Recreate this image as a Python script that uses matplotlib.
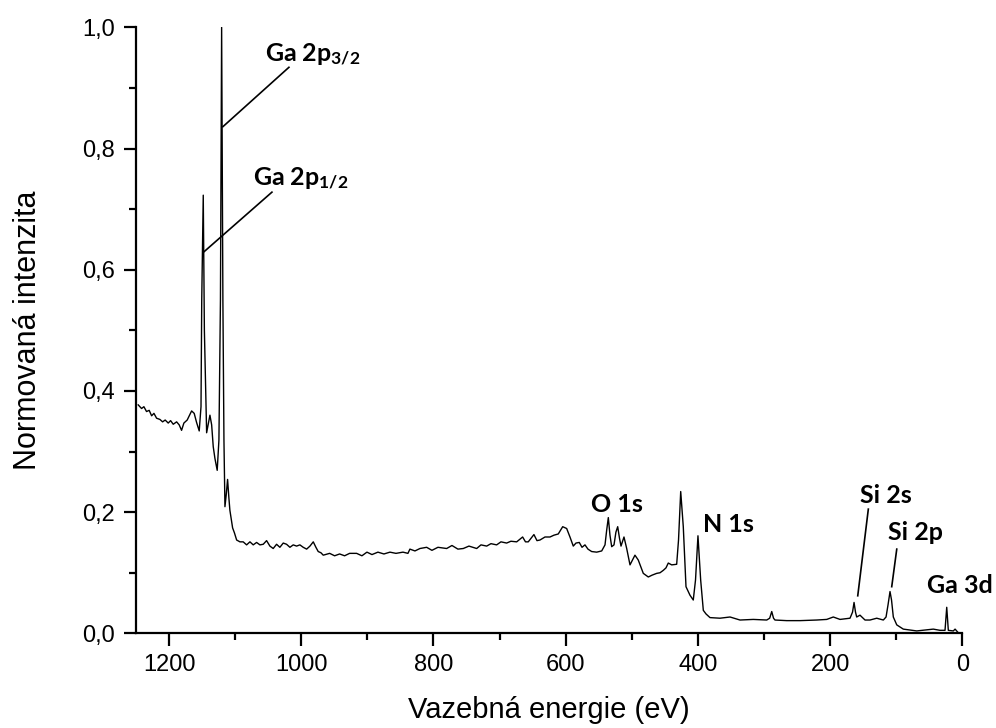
import numpy as np
import matplotlib
matplotlib.use("Agg")
import matplotlib.pyplot as plt
from matplotlib.ticker import MultipleLocator, FuncFormatter


# survey spectrum (binding energy in eV, normalized intensity)
energy = [
    1246.6, 1241.5, 1238.0, 1234.0, 1230.0, 1226.3, 1222.8, 1218.8, 1213.8, 1209.7,
    1205.8, 1201.2, 1197.6, 1193.6, 1188.5, 1184.6, 1181.0, 1177.5, 1172.5, 1165.8,
    1161.9, 1158.3, 1154.3, 1151.6, 1150.5, 1148.2, 1146.5, 1143.1, 1138.1, 1135.5,
    1133.1, 1130.6, 1127.1, 1124.5, 1122.2, 1120.4, 1118.5, 1116.9, 1115.4, 1113.5,
    1111.4, 1109.4, 1107.9, 1103.8, 1101.1, 1097.7, 1092.7, 1087.8, 1082.6, 1077.6,
    1072.6, 1067.5, 1062.5, 1057.5, 1052.4, 1047.4, 1042.4, 1037.3, 1032.3, 1027.2,
    1022.2, 1017.1, 1012.1, 1007.0, 1002.0, 997.0, 991.8, 986.8, 981.8, 977.8,
    974.3, 970.2, 966.7, 957.0, 949.5, 941.9, 934.4, 926.8, 916.2, 908.2,
    900.6, 893.0, 884.0, 874.9, 865.8, 856.7, 846.1, 838.6, 835.6, 828.0,
    820.4, 810.3, 802.3, 793.2, 780.0, 772.0, 763.0, 754.9, 746.3, 734.6,
    728.1, 719.5, 713.0, 704.4, 697.9, 689.3, 682.8, 674.1, 665.1, 660.8,
    656.6, 648.0, 643.4, 638.9, 631.3, 623.7, 617.7, 611.2, 604.5, 598.5,
    593.5, 588.5, 584.4, 579.4, 575.3, 570.8, 566.3, 560.7, 553.1, 545.5,
    540.5, 538.0, 535.5, 533.0, 530.4, 526.9, 524.0, 521.3, 518.6, 516.3,
    511.8, 507.7, 502.7, 498.9, 495.2, 490.2, 482.6, 475.0, 469.4, 462.3,
    457.3, 452.3, 448.3, 444.8, 439.6, 432.1, 429.3, 426.0, 422.1, 418.0,
    412.0, 407.0, 403.6, 399.9, 395.8, 391.8, 387.7, 381.7, 366.6, 351.4,
    336.3, 316.2, 295.9, 291.4, 288.3, 285.6, 283.4, 265.7, 245.5, 220.3,
    205.1, 195.2, 185.0, 169.9, 166.1, 163.8, 161.6, 159.8, 154.8, 147.2,
    139.7, 129.5, 119.5, 115.4, 112.4, 109.4, 107.1, 104.4, 99.2, 89.3,
    69.0, 43.9, 33.7, 26.2, 23.6, 21.2, 13.6, 11.0, 6.1, 3.5,
]
intensity = [
    0.377, 0.371, 0.374, 0.366, 0.368, 0.359, 0.363, 0.355, 0.353, 0.349,
    0.352, 0.347, 0.351, 0.345, 0.349, 0.344, 0.335, 0.347, 0.352, 0.367,
    0.363, 0.348, 0.334, 0.374, 0.550, 0.723, 0.500, 0.331, 0.360, 0.344,
    0.308, 0.289, 0.269, 0.319, 0.550, 1.000, 0.550, 0.319, 0.209, 0.228,
    0.254, 0.223, 0.203, 0.174, 0.166, 0.154, 0.151, 0.151, 0.146, 0.151,
    0.146, 0.150, 0.146, 0.147, 0.153, 0.144, 0.140, 0.147, 0.142, 0.149,
    0.147, 0.142, 0.146, 0.144, 0.146, 0.142, 0.139, 0.144, 0.151, 0.142,
    0.135, 0.133, 0.129, 0.132, 0.128, 0.131, 0.128, 0.132, 0.132, 0.128,
    0.134, 0.130, 0.134, 0.131, 0.134, 0.132, 0.134, 0.132, 0.139, 0.136,
    0.140, 0.142, 0.137, 0.142, 0.140, 0.145, 0.139, 0.140, 0.144, 0.140,
    0.146, 0.144, 0.148, 0.146, 0.151, 0.149, 0.152, 0.151, 0.159, 0.151,
    0.151, 0.163, 0.153, 0.154, 0.159, 0.159, 0.162, 0.164, 0.176, 0.173,
    0.159, 0.144, 0.149, 0.150, 0.142, 0.146, 0.139, 0.135, 0.134, 0.136,
    0.146, 0.170, 0.191, 0.162, 0.143, 0.146, 0.167, 0.176, 0.157, 0.144,
    0.159, 0.140, 0.113, 0.121, 0.129, 0.121, 0.099, 0.093, 0.096, 0.099,
    0.100, 0.104, 0.108, 0.116, 0.113, 0.114, 0.154, 0.234, 0.176, 0.077,
    0.063, 0.055, 0.088, 0.161, 0.088, 0.038, 0.032, 0.026, 0.025, 0.027,
    0.022, 0.023, 0.022, 0.025, 0.036, 0.025, 0.022, 0.021, 0.021, 0.022,
    0.023, 0.027, 0.023, 0.025, 0.035, 0.051, 0.035, 0.027, 0.030, 0.022,
    0.022, 0.025, 0.022, 0.027, 0.047, 0.069, 0.055, 0.027, 0.014, 0.007,
    0.004, 0.007, 0.005, 0.005, 0.043, 0.005, 0.004, 0.007, 0.001, 0.000,
]

# peak labels: text, text position (eV, intensity at baseline), leader line or None
peak_labels = ["Ga 2p$_{\\mathbf{3/2}}$", "Ga 2p$_{\\mathbf{1/2}}$", "O 1s", "N 1s",
               "Si 2s", "Si 2p", "Ga 3d"]
label_x = [1055.0, 1073.5, 561.7, 391.8, 154.8, 112.0, 53.9]
label_y = [0.943, 0.738, 0.201, 0.168, 0.2145, 0.154, 0.067]
leaders = [((1018.6, 0.934), (1118.5, 0.836)),
           ((1044.3, 0.728), (1146.7, 0.630)),
           None, None,
           ((142.2, 0.205), (158.2, 0.062)),
           ((99.2, 0.139), (106.8, 0.077)),
           None]

plt.rcParams["font.family"] = ["Liberation Sans", "DejaVu Sans"]
plt.rcParams["mathtext.fontset"] = "custom"
plt.rcParams["mathtext.rm"] = "Lato:bold"
plt.rcParams["mathtext.bf"] = "Lato:bold"
plt.rcParams["mathtext.it"] = "Lato:bold"

fig = plt.figure(figsize=(9.96, 7.28), dpi=100)
ax = fig.add_axes([0.1365, 0.130, 0.9662 - 0.1365, 0.9625 - 0.130])

ax.plot(energy, intensity, color="black", linewidth=1.0)

for txt, x, y, ld in zip(peak_labels, label_x, label_y, leaders):
    ax.text(x, y, txt, fontfamily="Lato", fontweight="bold", fontsize=18,
            ha="left", va="baseline", clip_on=False)
    if ld is not None:
        ax.plot([ld[0][0], ld[1][0]], [ld[0][1], ld[1][1]], color="black",
                linewidth=1.2)

ax.set_xlim(1250, 0)
ax.set_ylim(0, 1.0)

ax.xaxis.set_major_locator(MultipleLocator(200))
ax.xaxis.set_minor_locator(MultipleLocator(100))
ax.yaxis.set_major_locator(MultipleLocator(0.2))
ax.yaxis.set_minor_locator(MultipleLocator(0.1))
ax.yaxis.set_major_formatter(FuncFormatter(lambda v, p: ("%.1f" % v).replace(".", ",")))

for s in ["top", "right"]:
    ax.spines[s].set_visible(False)
for s in ["left", "bottom"]:
    ax.spines[s].set_linewidth(1.6)

ax.tick_params(which="major", direction="out", length=9, width=1.6, labelsize=17, pad=6)
ax.tick_params(which="minor", direction="out", length=5, width=1.6)

ax.set_xlabel("Vazebná energie (eV)", fontsize=21, labelpad=14)
ax.set_ylabel("Normovaná intenzita", fontsize=22, labelpad=28)

fig.savefig("out.png", dpi=100)
